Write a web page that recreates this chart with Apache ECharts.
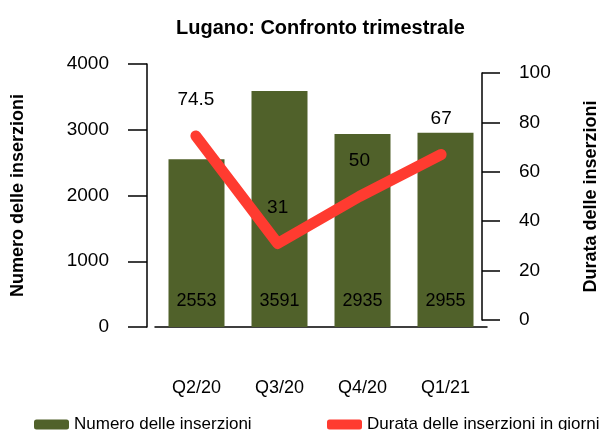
<!DOCTYPE html>
<html><head><meta charset="utf-8">
<script src="https://cdn.jsdelivr.net/npm/echarts@6/dist/echarts.min.js"></script>
<style>html,body{margin:0;padding:0;background:#fff}#c{width:608px;height:430px}</style>
</head><body><div id="c"></div>
<script>
const categories = ['Q2/20', 'Q3/20', 'Q4/20', 'Q1/21'];
const numeroInserzioni = [2553, 3591, 2935, 2955];
const durataInserzioni = [74.5, 31, 50, 67];
const leftTicks = [0, 4000, 1000];
const rightTicks = [0, 100, 20];

const F = '"Liberation Sans Narrow", "Arial Narrow", "Liberation Sans", sans-serif';
const chart = echarts.init(document.getElementById('c'));
chart.setOption({
  animation: false,
  textStyle: { fontFamily: F },
  title: {
    text: 'Lugano: Confronto trimestrale', left: 171, top: 13,
    textStyle: { fontFamily: F, fontSize: 20, fontWeight: 'bold', color: '#000' }
  },
  legend: [
    { left: 29, top: 411, itemWidth: 35, itemHeight: 10, icon: 'roundRect',
      textStyle: { fontFamily: F, fontSize: 17, color: '#000' },
      data: ['Numero delle inserzioni'] },
    { left: 322, top: 411, itemWidth: 35, itemHeight: 10, icon: 'roundRect',
      textStyle: { fontFamily: F, fontSize: 17, color: '#000' },
      data: ['Durata delle inserzioni in giorni'] }
  ],
  grid: [
    { left: 155, right: 121, top: 64, bottom: 103 },
    { left: 155, right: 121, top: 73, bottom: 110 }
  ],
  xAxis: [
    { type: 'category', gridIndex: 0, data: categories,
      axisLine: { lineStyle: { color: '#000', width: 1.5 } }, axisTick: { show: false },
      axisLabel: { margin: 52, fontSize: 18, color: '#000', fontFamily: F } },
    { type: 'category', gridIndex: 1, data: categories, show: false }
  ],
  yAxis: [
    { type: 'value', gridIndex: 0, min: leftTicks[0], max: leftTicks[1], interval: leftTicks[2], offset: 8,
      name: 'Numero delle inserzioni', nameLocation: 'middle', nameGap: 120, nameRotate: 90,
      nameTextStyle: { fontFamily: F, fontSize: 18, fontWeight: 'bold', color: '#000' },
      axisLine: { show: true, lineStyle: { color: '#000', width: 1.5 } },
      axisTick: { show: true, length: 19, lineStyle: { color: '#000', width: 1.5 } },
      axisLabel: { margin: 38, fontSize: 19, color: '#000', fontFamily: F, formatter: v => String(v) },
      splitLine: { show: false } },
    { type: 'value', gridIndex: 1, position: 'right', min: rightTicks[0], max: rightTicks[1], interval: rightTicks[2],
      name: 'Durata delle inserzioni', nameLocation: 'middle', nameGap: 100, nameRotate: 90,
      nameTextStyle: { fontFamily: F, fontSize: 18, fontWeight: 'bold', color: '#000' },
      axisLine: { show: true, lineStyle: { color: '#000', width: 1.5 } },
      axisTick: { show: true, length: 18, lineStyle: { color: '#000', width: 1.5 } },
      axisLabel: { margin: 37, fontSize: 19, color: '#000', fontFamily: F, formatter: v => String(v) },
      splitLine: { show: false } }
  ],
  series: [
    { name: 'Numero delle inserzioni', type: 'bar', xAxisIndex: 0, yAxisIndex: 0,
      data: numeroInserzioni, barWidth: 56, itemStyle: { color: '#50612A' },
      label: { show: true, position: 'insideBottom', distance: 17, fontSize: 18, color: '#000', fontFamily: F } },
    { name: 'Durata delle inserzioni in giorni', type: 'line', xAxisIndex: 1, yAxisIndex: 1,
      data: durataInserzioni, symbol: 'circle', symbolSize: 1, showSymbol: true,
      lineStyle: { color: '#FF3B30', width: 11, cap: 'round', join: 'round' },
      itemStyle: { color: '#FF3B30' },
      label: { show: true, position: 'top', distance: 26, fontSize: 19, color: '#000', fontFamily: F } }
  ]
});
</script></body></html>
